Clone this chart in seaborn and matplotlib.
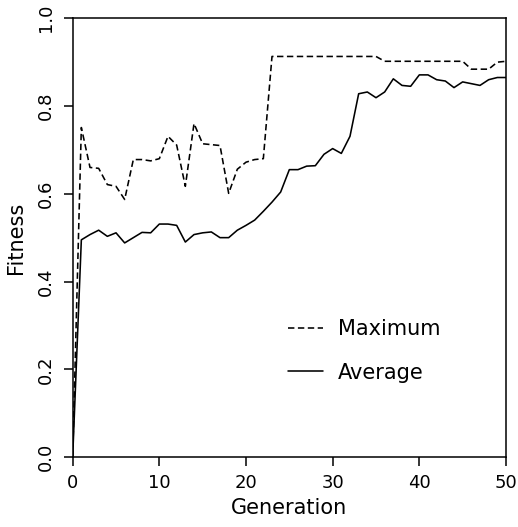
import numpy as np
import pandas as pd
import seaborn as sns
import matplotlib.pyplot as plt

# Fitness per generation
generation = list(range(51))

max_fitness = [0.000, 0.751, 0.660, 0.658, 0.621, 0.617, 0.587, 0.678, 0.678, 0.675,
               0.680, 0.731, 0.711, 0.617, 0.760, 0.714, 0.712, 0.710, 0.601, 0.656,
               0.672, 0.678, 0.680, 0.913, 0.913, 0.913, 0.913, 0.913, 0.913, 0.913,
               0.913, 0.913, 0.913, 0.913, 0.913, 0.913, 0.902, 0.902, 0.902, 0.902,
               0.902, 0.902, 0.902, 0.902, 0.902, 0.902, 0.884, 0.884, 0.884, 0.900,
               0.902]

avg_fitness = [0.000, 0.495, 0.507, 0.517, 0.503, 0.511, 0.488, 0.500, 0.512, 0.511,
               0.531, 0.531, 0.528, 0.490, 0.507, 0.511, 0.513, 0.500, 0.500, 0.517,
               0.528, 0.540, 0.560, 0.581, 0.604, 0.655, 0.655, 0.663, 0.664, 0.690,
               0.703, 0.692, 0.731, 0.828, 0.832, 0.819, 0.832, 0.862, 0.847, 0.845,
               0.871, 0.871, 0.860, 0.857, 0.842, 0.855, 0.851, 0.847, 0.860, 0.865,
               0.865]

x_ticks = [0, 10, 20, 30, 40, 50]
y_ticks = [0.0, 0.2, 0.4, 0.6, 0.8, 1.0]
y_tick_labels = ['0.0', '0.2', '0.4', '0.6', '0.8', '1.0']

df = pd.DataFrame({'generation': generation,
                   'max': max_fitness,
                   'avg': avg_fitness})

sns.set_style('ticks')
plt.rcParams['font.family'] = ['DejaVu Sans']
plt.rcParams['text.color'] = 'black'
plt.rcParams['axes.labelcolor'] = 'black'

fig = plt.figure(figsize=(5.18, 5.27), dpi=100)
ax = fig.add_axes([0.1403, 0.1328, 0.8365, 0.8325])

sns.lineplot(data=df, x='generation', y='max', ax=ax, color='black',
             linestyle=(0, (4, 2.2)), linewidth=1.15, label='Maximum')
sns.lineplot(data=df, x='generation', y='avg', ax=ax, color='black',
             linewidth=1.15, label='Average')

ax.set_xlim(0, 50)
ax.set_ylim(0, 1)
ax.set_xticks(x_ticks)
ax.set_yticks(y_ticks)
ax.set_yticklabels(y_tick_labels, rotation=90, va='center')

ax.tick_params(direction='out', length=6.5, width=1.1, labelsize=13, pad=6,
               top=False, right=False, colors='black')
for s in ax.spines.values():
    s.set_linewidth(1.1)
    s.set_color('black')

ax.set_xlabel('Generation', fontsize=15, labelpad=4, color='black')
ax.set_ylabel('Fitness', fontsize=15, labelpad=8, color='black')

leg = ax.legend(loc='upper left', bbox_to_anchor=(0.497, 0.315), frameon=False,
                fontsize=15, borderpad=0, borderaxespad=0, handlelength=1.68,
                handletextpad=0.72, labelspacing=1.15)
for t in leg.get_texts():
    t.set_color('black')

fig.savefig('out.png', dpi=100)
